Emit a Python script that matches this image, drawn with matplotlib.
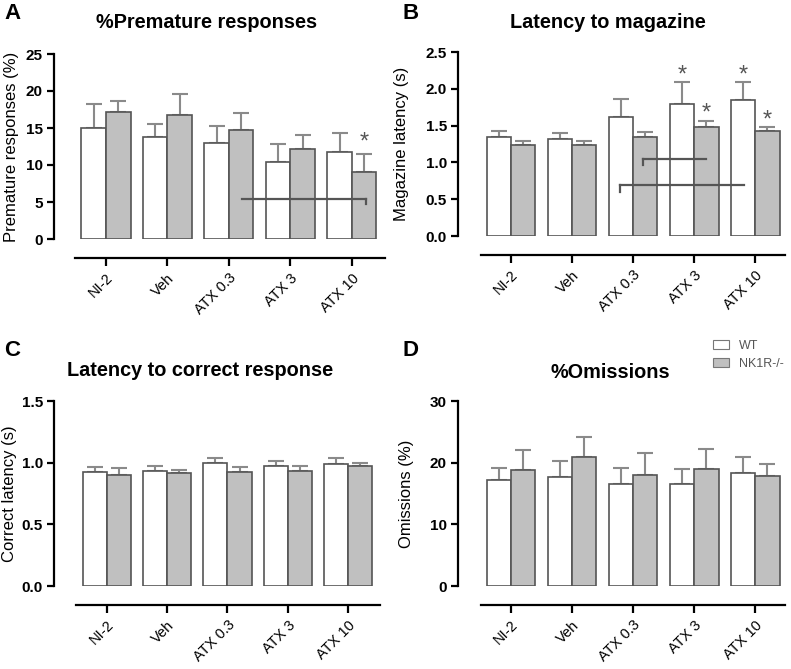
import matplotlib
matplotlib.use("Agg")
import matplotlib.pyplot as plt
import numpy as np
from matplotlib.patches import Patch

plt.rcParams['font.family'] = ['Liberation Sans', 'DejaVu Sans']

groups = ['NI-2', 'Veh', 'ATX 0.3', 'ATX 3', 'ATX 10']

# A: % premature responses
prem_wt = [15.0, 13.85, 13.0, 10.4, 11.7]
prem_wt_err = [3.3, 1.75, 2.3, 2.5, 2.65]
prem_ko = [17.2, 16.8, 14.7, 12.2, 9.0]
prem_ko_err = [1.4, 2.8, 2.3, 1.8, 2.5]

# B: latency to magazine (s)
mag_wt = [1.34, 1.32, 1.617, 1.79, 1.843]
mag_wt_err = [0.08, 0.075, 0.24, 0.30, 0.254]
mag_ko = [1.23, 1.24, 1.34, 1.486, 1.427]
mag_ko_err = [0.06, 0.055, 0.07, 0.081, 0.053]

# C: latency to correct response (s)
cor_wt = [0.923, 0.931, 0.999, 0.969, 0.986]
cor_wt_err = [0.038, 0.044, 0.035, 0.046, 0.054]
cor_ko = [0.904, 0.918, 0.921, 0.934, 0.969]
cor_ko_err = [0.049, 0.024, 0.046, 0.041, 0.027]

# D: % omissions
om_wt = [17.27, 17.65, 16.5, 16.6, 18.25]
om_wt_err = [1.9, 2.65, 2.56, 2.4, 2.65]
om_ko = [18.79, 20.84, 18.03, 18.9, 17.87]
om_ko_err = [3.25, 3.36, 3.57, 3.24, 1.93]

WHITE = 'white'
GREY = '#c0c0c0'
EDGE = '#555555'
ERRC = '#8a8a8a'
W = 0.4

fig = plt.figure(figsize=(7.91, 6.69), dpi=100)


def px_axes(l, r, b, t):
    return fig.add_axes([l / 791, 1 - b / 669, (r - l) / 791, (b - t) / 669])


def panel(ax, wt, wt_err, ko, ko_err, ymax, yticks, yticklabels, ylabel, xlim, labx):
    x = np.arange(len(groups))
    ax.bar(x - W / 2, wt, W, color=WHITE, edgecolor=EDGE, linewidth=1.2, zorder=2)
    ax.bar(x + W / 2, ko, W, color=GREY, edgecolor=EDGE, linewidth=1.2, zorder=2)
    for xs, v, e in [(x - W / 2, wt, wt_err), (x + W / 2, ko, ko_err)]:
        ax.errorbar(xs, v, yerr=[np.zeros(len(v)), e], fmt='none', ecolor=ERRC,
                    elinewidth=1.5, capsize=6, capthick=1.5, zorder=1)
    ax.set_xlim(*xlim)
    ax.set_ylim(0, ymax)
    ax.spines['top'].set_visible(False)
    ax.spines['right'].set_visible(False)
    ax.spines['left'].set_linewidth(1.6)
    ax.spines['bottom'].set_linewidth(1.6)
    ax.spines['bottom'].set_position(('outward', 14))
    ax.spines['bottom'].set_bounds(-0.5, xlim[1])
    ax.tick_params(axis='y', length=5, width=1.6, pad=3)
    ax.tick_params(axis='x', length=6, width=1.6, pad=3)
    ax.set_yticks(yticks)
    ax.set_yticklabels(yticklabels, fontsize=11, fontweight='bold')
    ax.set_xticks(x)
    ax.set_xticklabels(groups, fontsize=10.5)
    plt.setp(ax.get_xticklabels(), rotation=45, ha='right', rotation_mode='anchor')
    ax.set_ylabel(ylabel, fontsize=12)
    ax.yaxis.set_label_coords(labx, 0.5)


def star(ax, x, y):
    ax.text(x, y, '*', ha='center', va='center', fontsize=17, color='#555555')


def bracket(ax, x0, x1, y, tick_y, side):
    xt = x0 if side == 'left' else x1
    ax.plot([x0, x1], [y, y], color='#555555', lw=1.6, zorder=3)
    ax.plot([xt, xt], [y, tick_y], color='#555555', lw=1.6, zorder=3)


# A
axA = px_axes(54, 385, 239, 54)
panel(axA, prem_wt, prem_wt_err, prem_ko, prem_ko_err, 25, [0, 5, 10, 15, 20, 25],
      ['0', '5', '10', '15', '20', '25'],
      'Premature responses (%)', (-0.845, 4.54), -0.105)
star(axA, 4.2, 13.0)
bracket(axA, 2.21, 4.23, 5.37, 4.7, 'right')

# B
axB = px_axes(458, 785, 236, 52)
panel(axB, mag_wt, mag_wt_err, mag_ko, mag_ko_err, 2.5, [0, 0.5, 1.0, 1.5, 2.0, 2.5],
      ['0.0', '0.5', '1.0', '1.5', '2.0', '2.5'],
      'Magazine latency (s)', (-0.87, 4.49), -0.15)
star(axB, 2.8, 2.18)
star(axB, 3.2, 1.66)
star(axB, 3.8, 2.18)
star(axB, 4.2, 1.57)
bracket(axB, 2.16, 3.2, 1.046, 0.97, 'left')
bracket(axB, 1.79, 3.82, 0.688, 0.60, 'left')

# C
axC = px_axes(54, 380, 586, 401)
panel(axC, cor_wt, cor_wt_err, cor_ko, cor_ko_err, 1.5, [0, 0.5, 1.0, 1.5],
      ['0.0', '0.5', '1.0', '1.5'],
      'Correct latency (s)', (-0.872, 4.525), -0.115)

# D
axD = px_axes(458, 785, 586, 401)
panel(axD, om_wt, om_wt_err, om_ko, om_ko_err, 30, [0, 10, 20, 30],
      ['0', '10', '20', '30'],
      'Omissions (%)', (-0.87, 4.49), -0.135)

# titles
fig.text(207 / 791, 1 - 23 / 669, '%Premature responses', ha='center', va='center',
         fontsize=14.3, fontweight='bold')
fig.text(608 / 791, 1 - 22 / 669, 'Latency to magazine', ha='center', va='center',
         fontsize=14.3, fontweight='bold')
fig.text(200 / 791, 1 - 370 / 669, 'Latency to correct response', ha='center', va='center',
         fontsize=14.3, fontweight='bold')
fig.text(610 / 791, 1 - 372 / 669, '%Omissions', ha='center', va='center',
         fontsize=14.3, fontweight='bold')

# panel letters
for lx, ly, lt in [(4, 3, 'A'), (402, 3, 'B'), (4, 340, 'C'), (402, 340, 'D')]:
    fig.text(lx / 791, 1 - ly / 669, lt, ha='left', va='top', fontsize=16, fontweight='bold')

# legend
handles = [Patch(facecolor=WHITE, edgecolor='#777777', lw=0.8),
           Patch(facecolor=GREY, edgecolor='#777777', lw=0.8)]
leg = fig.legend(handles, ['WT', 'NK1R-/-'], loc='upper left',
                 bbox_to_anchor=(713 / 791, 1 - 340 / 669), frameon=False,
                 fontsize=9, handlelength=1.25, handleheight=0.75, labelspacing=0.5,
                 handletextpad=0.8, borderpad=0, borderaxespad=0)
for t in leg.get_texts():
    t.set_color('#555555')

fig.savefig('out.png', dpi=100)
